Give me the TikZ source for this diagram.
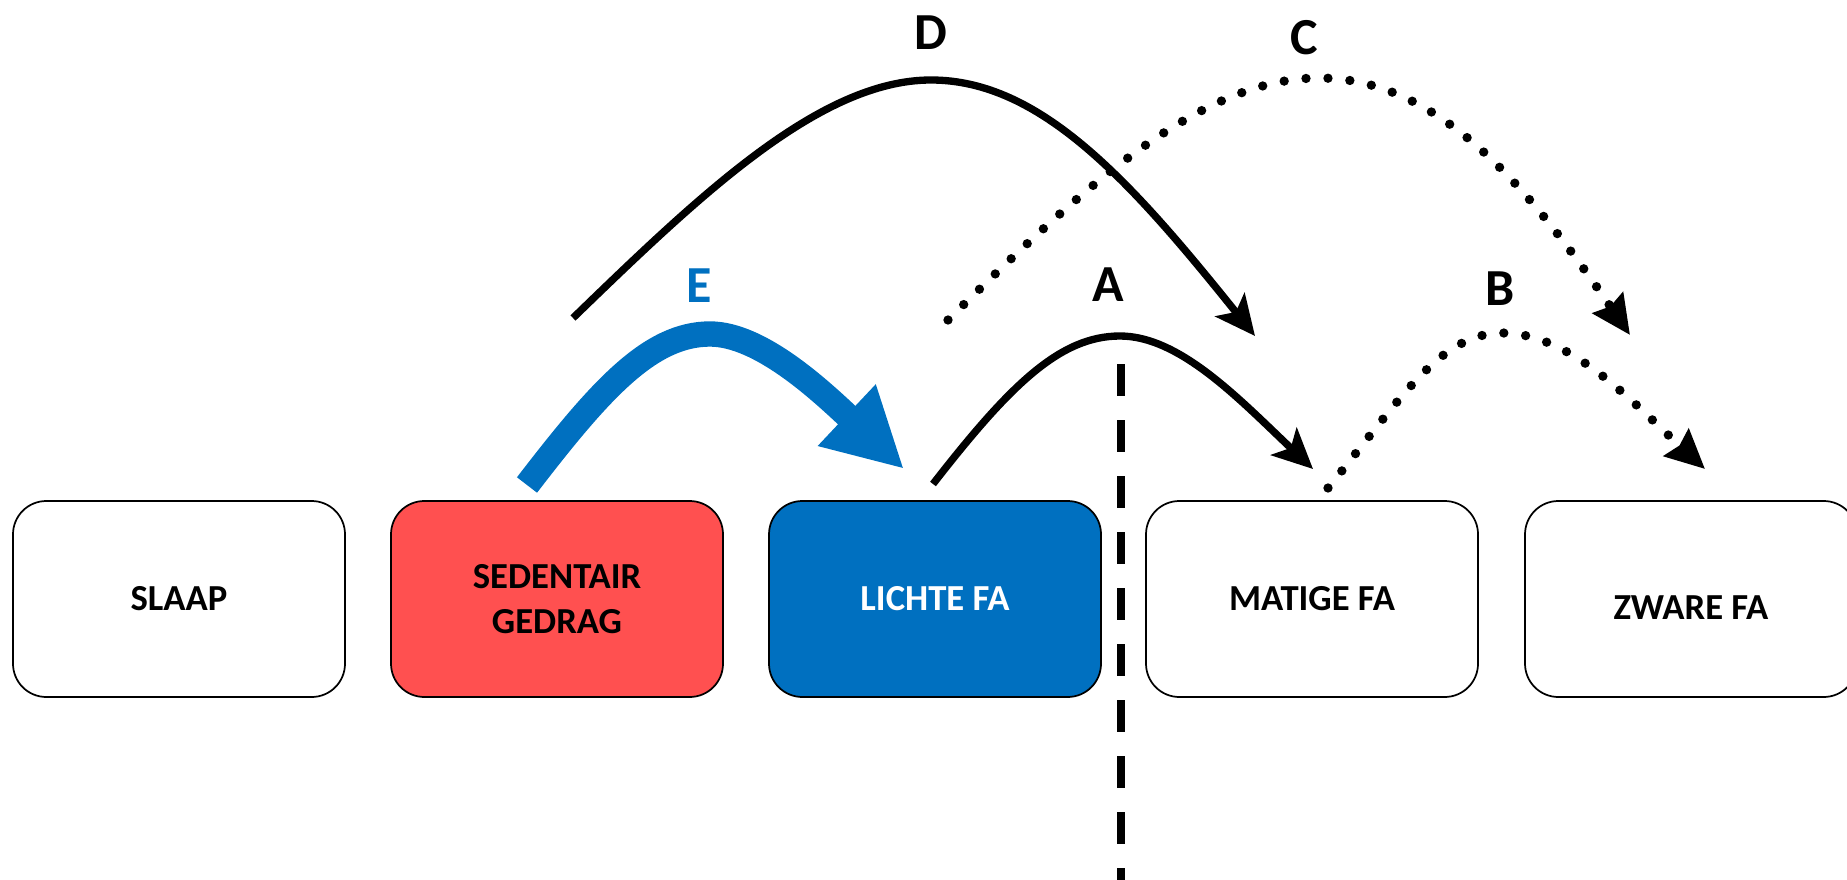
\documentclass[tikz,border=0pt]{standalone}
\usepackage{fontspec}
\setmainfont{Carlito}
\usetikzlibrary{arrows.meta}

\definecolor{sedred}{RGB}{255,80,80}
\definecolor{faBlue}{RGB}{0,112,192}

\tikzset{every picture/.style={line width=0.75pt}}
\tikzset{
  actbox/.style={draw=black, line width=1.3pt, rounded corners=25pt, minimum width=249pt, minimum height=147pt, inner sep=0pt, align=center, font=\fontsize{27.5}{33.6}\selectfont\bfseries},
  arclabel/.style={inner sep=0.75pt, font=\fontsize{39}{46}\selectfont\bfseries},
  solidarc/.style={line width=5.5pt, -{Stealth[length=30pt,width=28pt,inset=7pt]}},
  dotarc/.style={line width=7pt, line cap=round, dash pattern=on 0pt off 16.5pt, -{Stealth[length=29pt,width=27pt,inset=3pt]}},
}

\begin{document}
\begin{tikzpicture}[x=0.75pt,y=0.75pt,yscale=-1,xscale=1]
\useasboundingbox (0,0) rectangle (1847,880);

%Shape: Rounded Rect [slaap]
\node [actbox] (slaap) at (179,599) {SLAAP};
%Shape: Rounded Rect [sedentair]
\node [actbox, fill=sedred] (sedentair) at (557,599) {SEDENTAIR\\GEDRAG};
%Shape: Rounded Rect [lichte]
\node [actbox, fill=faBlue, text=white] (lichte) at (935,599) {LICHTE FA};
%Shape: Rounded Rect [matige]
\node [actbox] (matige) at (1312,599) {MATIGE FA};
%Shape: Rounded Rect [zware]
\node [actbox] (zware) at (1691,599) {\raisebox{-6.5pt}[\height][\depth]{ZWARE FA}};

%Straight Lines [threshold]
\coordinate (thr-top) at (1121,364);
\coordinate (thr-bot) at (1121,880);
\draw [line width=6pt, dash pattern=on 24pt off 18pt] (thr-top) -- (thr-bot);

%Curve Lines [E]
\coordinate (e-start) at (527,485);
\coordinate (e-end) at (904,469);
\draw [faBlue, line width=19pt, -{Triangle[length=59pt,width=59pt]}] (e-start) .. controls (600,390) and (650,334) .. (710,334) .. controls (760,334) and (820,390) .. (e-end);
%Curve Lines [A]
\coordinate (a-start) at (933,484);
\coordinate (a-end) at (1313,469);
\draw [solidarc] (a-start) .. controls (1010,385) and (1060,336) .. (1120,336) .. controls (1180,336) and (1240,400) .. (a-end);
%Curve Lines [B]
\coordinate (b-start) at (1328,488);
\coordinate (b-end) at (1705,469);
\draw [dotarc] (b-start) .. controls (1400,400) and (1440,333) .. (1502,333) .. controls (1570,333) and (1630,400) .. (b-end);
%Curve Lines [D]
\coordinate (d-start) at (573,318);
\coordinate (d-end) at (1255,336);
\draw [solidarc] (d-start) .. controls (700,195) and (820,80) .. (931,80) .. controls (1040,80) and (1130,180) .. (d-end);
%Curve Lines [C]
\coordinate (c-start) at (948,320);
\coordinate (c-end) at (1630,335);
\draw [dotarc] (c-start) .. controls (1080,190) and (1200,78) .. (1319,78) .. controls (1440,78) and (1530,190) .. (c-end);

% Text Node
\node [arclabel] (lbl-d) at (931,33) {D};
% Text Node
\node [arclabel] (lbl-c) at (1304,38) {C};
% Text Node
\node [arclabel] (lbl-a) at (1108,285) {A};
% Text Node
\node [arclabel] (lbl-b) at (1500,289) {B};
% Text Node
\node [arclabel, text=faBlue] (lbl-e) at (699,286) {E};

\end{tikzpicture}
\end{document}
